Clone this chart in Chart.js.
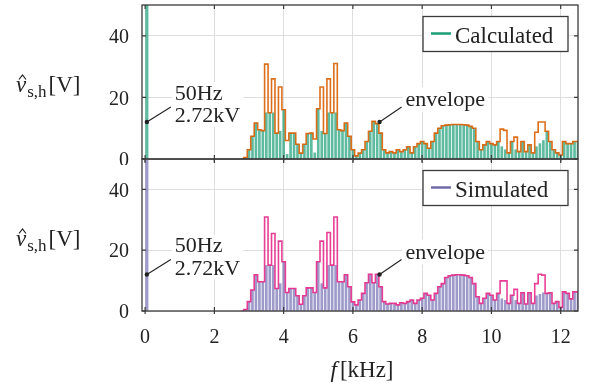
<!DOCTYPE html>
<html>
<head>
<meta charset="utf-8">
<script src="https://cdn.jsdelivr.net/npm/chart.js@4.4.0/dist/chart.umd.min.js"></script>
<style>
  body { margin: 0; background: #fff; }
  #wrap { position: relative; width: 590px; height: 387px; }
  #calc { position: absolute; left: 0; top: 0; }
  #sim { position: absolute; left: 0; top: 150px; }
</style>
</head>
<body>
<div id="wrap">
  <canvas id="calc" width="590" height="165"></canvas>
  <canvas id="sim" width="590" height="237"></canvas>
</div>
<script>
// harmonic frequencies in kHz
var freqs = [2.8, 2.9, 3.0, 3.1, 3.2, 3.3, 3.4, 3.5, 3.6, 3.7, 3.8, 3.9,
  4.0, 4.1, 4.2, 4.3, 4.4, 4.5, 4.6, 4.7, 4.8, 4.9,
  5.0, 5.1, 5.2, 5.3, 5.4, 5.5, 5.6, 5.7, 5.8, 5.9,
  6.0, 6.1, 6.2, 6.3, 6.4, 6.5, 6.6, 6.7, 6.8, 6.9,
  7.0, 7.1, 7.2, 7.3, 7.4, 7.5, 7.6, 7.7, 7.8, 7.9,
  8.0, 8.1, 8.2, 8.3, 8.4, 8.5, 8.6, 8.7, 8.8, 8.9,
  9.0, 9.1, 9.2, 9.3, 9.4, 9.5, 9.6, 9.7, 9.8, 9.9,
  10.0, 10.1, 10.2, 10.3, 10.4, 10.5, 10.6, 10.7, 10.8, 10.9,
  11.0, 11.1, 11.2, 11.3, 11.4, 11.5, 11.6, 11.7, 11.8, 11.9,
  12.0, 12.1, 12.2, 12.3, 12.4, 12.5];

var calcEnvelope = [0, 0.5, 3, 7.4, 11.7, 9.5, 9.2, 30.8, 15, 26, 8.4, 23.4,
  16, 6, 8.4, 8.4, 4.8, 1.9, 4.8, 8.3, 8.4, 6.5,
  16.3, 23.4, 8.3, 26, 15, 31, 9.5, 9.2, 11.7, 7.4,
  3, 1, 1.9, 3, 5.7, 9, 12.2, 11.5, 8.4, 3,
  2, 2.4, 2, 3, 2.4, 3, 4, 2, 4, 5,
  5.7, 5, 3.5, 5.7, 8.4, 10, 10.8, 11, 11.1, 11.2,
  11.2, 11.2, 11.1, 11, 10.6, 10, 5.7, 3, 4.6, 5.7,
  5, 4.6, 5.7, 9.7, 9.3, 2, 5.7, 7.1, 2.4, 5.7,
  2.4, 4.6, 2, 8.7, 12, 12, 9, 5.7, 3, 2,
  1.3, 5.7, 5, 5, 5.7, 5.7];

var calcBars = [0, 0.5, 3, 7.4, 11.7, 9.5, 9.2, 15, 15, 15, 8.4, 9,
  16, 1.5, 8.4, 8.4, 4.8, 1.9, 4.8, 8.3, 8.4, 2,
  16.3, 9, 8.3, 15, 15, 15, 9.5, 9.2, 11.7, 7.4,
  3, 1, 1.9, 3, 5.7, 9, 12.2, 11.5, 8.4, 3,
  2, 2.4, 2, 3, 2.4, 3, 4, 2, 4, 5,
  5.7, 5, 3.5, 5.7, 8.4, 10, 10.8, 11, 11.1, 11.2,
  11.2, 11.2, 11.1, 11, 10.6, 10, 5.7, 3, 4.6, 5.7,
  5, 4.6, 5.7, 4, 3, 2, 5.7, 3, 2.4, 5.7,
  2.4, 4.6, 2, 4, 5, 6, 9, 5.7, 3, 2,
  1.3, 5.7, 5, 5, 5.7, 5.7];

var simEnvelope = [0, 0.5, 3.1, 6.9, 11.9, 9.6, 9.6, 30.9, 15.1, 25.5, 7.4, 23,
  16.2, 6.1, 7.4, 7.4, 5, 2.2, 5, 7.6, 7.6, 6.1,
  16.2, 23, 7.6, 25.8, 15.1, 30.9, 9.6, 9.6, 11.9, 8,
  3, 2, 3.6, 5.8, 9.3, 12.1, 9.3, 12.1, 8, 3.1,
  2.3, 2.5, 2.5, 2, 2.7, 2.5, 3.1, 3.6, 2.5, 3.6,
  4.2, 5.8, 5.2, 3.6, 5.8, 8, 9, 11, 11.6, 11.8,
  11.9, 11.9, 11.8, 11.6, 11, 9, 4.7, 2.5, 4.2, 5.8,
  5.2, 3.6, 5.8, 9.9, 9.9, 2.5, 5.2, 7.1, 2.5, 6,
  2.3, 6, 2.5, 9, 12.1, 11.8, 5.8, 6, 2.5, 3.1,
  1.2, 6.3, 5.8, 4, 6.3, 6.3];

var simBars = [0, 0.5, 3.1, 6.9, 11.9, 9.6, 9.6, 15, 15.1, 15, 7.4, 9,
  16.2, 6.1, 7.4, 7.4, 5, 2.2, 5, 7.6, 7.6, 6.1,
  16.2, 9, 7.6, 15, 15.1, 15, 9.6, 9.6, 11.9, 8,
  3, 2, 3.6, 5.8, 9.3, 12.1, 9.3, 12.1, 8, 3.1,
  2.3, 2.5, 2.5, 2, 2.7, 2.5, 3.1, 3.6, 2.5, 3.6,
  4.2, 5.8, 5.2, 3.6, 5.8, 8, 9, 11, 11.6, 11.8,
  11.9, 11.9, 11.8, 11.6, 11, 9, 4.7, 2.5, 4.2, 5.8,
  5.2, 3.6, 5.8, 4, 3.5, 2.5, 5.2, 3.5, 2.5, 6,
  2.3, 6, 2.5, 5, 5.5, 6, 5.8, 6, 2.5, 3.1,
  1.2, 6.3, 5.8, 4, 6.3, 6.3];

// fundamental (50 Hz, 2.72 kV) - far off scale
var fundFreq = 0.05;
var fundCalc = 2720;
var fundSim = 2720;

var xTicks = [0, 2, 4, 6, 8, 10, 12];
var yTicks = [0, 20, 40];

var serif = '"Liberation Serif", "Times New Roman", serif';

function points(ys) {
  return freqs.map(function (f, i) { return { x: f, y: ys[i] }; });
}

function callout(ctx, px, py, lines, o) {
  ctx.font = '22px ' + serif;
  var tx = px + o.dx + 4;
  var w = 0;
  lines.forEach(function (t) { w = Math.max(w, ctx.measureText(t).width); });
  ctx.fillStyle = '#fff';
  ctx.fillRect(tx - 3, py + o.bgTop, w + 6, o.bgH);
  ctx.fillStyle = '#222';
  ctx.textAlign = 'left';
  ctx.textBaseline = 'alphabetic';
  lines.forEach(function (t, i) {
    ctx.fillText(t, tx, py + o.base + i * 22.5);
  });
  ctx.strokeStyle = '#222';
  ctx.lineWidth = 1.1;
  ctx.beginPath();
  ctx.moveTo(px, py);
  ctx.lineTo(px + o.dx, py + o.dy);
  ctx.stroke();
  ctx.beginPath();
  ctx.arc(px, py, 2.2, 0, Math.PI * 2);
  ctx.fill();
}

var panelPlugin = {
  id: 'panel',
  afterDatasetsDraw: function (chart, args, o) {
    var ctx = chart.ctx, a = chart.chartArea;
    var xs = chart.scales.x, ys = chart.scales.y;
    ctx.save();

    // callouts
    callout(ctx, xs.getPixelForValue(fundFreq), ys.getPixelForValue(12),
      ['50Hz', '2.72kV'], { dx: 24, dy: -15, base: -22.5, bgTop: -40, bgH: 45 });
    callout(ctx, xs.getPixelForValue(6.77), ys.getPixelForValue(12),
      ['envelope'], { dx: 22, dy: -15, base: -16, bgTop: -35, bgH: 25 });

    // frame
    ctx.strokeStyle = '#3a3a3a';
    ctx.lineWidth = 1.3;
    ctx.strokeRect(a.left, a.top, a.right - a.left, a.bottom - a.top);

    // inward tick marks
    ctx.lineWidth = 1.2;
    ctx.beginPath();
    xTicks.forEach(function (v) {
      var px = xs.getPixelForValue(v);
      ctx.moveTo(px, a.top); ctx.lineTo(px, a.top + 4);
      ctx.moveTo(px, a.bottom - 4); ctx.lineTo(px, a.bottom + 3);
    });
    yTicks.forEach(function (v) {
      var py = ys.getPixelForValue(v);
      ctx.moveTo(a.left, py); ctx.lineTo(a.left + 4, py);
      ctx.moveTo(a.right, py); ctx.lineTo(a.right - 4, py);
    });
    ctx.stroke();

    // legend box
    var bw = 145, bh = 35;
    var bx = a.right - 10 - bw, by = a.top + 11.5;
    ctx.fillStyle = '#fff';
    ctx.fillRect(bx, by, bw, bh);
    ctx.strokeStyle = '#3a3a3a';
    ctx.lineWidth = 1.3;
    ctx.strokeRect(bx, by, bw, bh);
    ctx.strokeStyle = o.color;
    ctx.lineWidth = 2.5;
    ctx.beginPath();
    ctx.moveTo(bx + 8, by + 17);
    ctx.lineTo(bx + 28, by + 17);
    ctx.stroke();
    ctx.fillStyle = '#222';
    ctx.font = '23px ' + serif;
    ctx.textAlign = 'left';
    ctx.textBaseline = 'alphabetic';
    ctx.fillText(o.label, bx + 32, by + 26);

    // y title  v^_{s,h}[V]
    var tx = 16, ty = a.top + 87;
    ctx.font = 'italic 23px ' + serif;
    ctx.fillText('v', tx, ty);
    var w1 = ctx.measureText('v').width;
    ctx.strokeStyle = '#222';
    ctx.lineWidth = 1.2;
    ctx.beginPath();
    ctx.moveTo(tx + 3, ty - 12.5);
    ctx.lineTo(tx + 6.5, ty - 17);
    ctx.lineTo(tx + 10, ty - 12.5);
    ctx.stroke();
    ctx.font = '17px ' + serif;
    ctx.fillText('s,h', tx + w1 + 1, ty + 5);
    var w2 = ctx.measureText('s,h').width;
    ctx.font = '23px ' + serif;
    ctx.fillText('[V]', tx + w1 + w2 + 3, ty);

    // x title  f[kHz]
    if (o.xTitle) {
      ctx.font = 'italic 23px ' + serif;
      var wf = ctx.measureText('f').width + 3;
      ctx.font = '23px ' + serif;
      var wk = ctx.measureText('[kHz]').width;
      var sx = (a.left + a.right) / 2 - (wf + wk) / 2 + 2;
      var sy = a.bottom + 66;
      ctx.font = 'italic 23px ' + serif;
      ctx.fillText('f', sx, sy);
      ctx.font = '23px ' + serif;
      ctx.fillText('[kHz]', sx + wf, sy);
    }
    ctx.restore();
  }
};

function noPad(s) {
  s.paddingTop = 0;
  s.paddingBottom = 0;
  s.paddingLeft = 0;
  s.paddingRight = 0;
}

function makePanel(id, bars, envelope, fund, barColor, envColor, legendColor, label, showX, pad, xHeight) {
  return new Chart(document.getElementById(id).getContext('2d'), {
    type: 'bar',
    data: {
      datasets: [
        {
          type: 'line',
          data: points(envelope),
          borderColor: envColor,
          borderWidth: 1.6,
          pointRadius: 0,
          stepped: 'middle',
          fill: false
        },
        {
          data: points(bars),
          backgroundColor: barColor,
          barThickness: 2,
          grouped: false
        },
        {
          data: [{ x: fundFreq, y: fund }],
          backgroundColor: barColor,
          barThickness: 2.5,
          grouped: false
        }
      ]
    },
    options: {
      responsive: false,
      animation: false,
      events: [],
      layout: { padding: pad },
      plugins: {
        legend: { display: false },
        tooltip: { enabled: false },
        panel: { color: legendColor, label: label, xTitle: showX }
      },
      scales: {
        x: {
          type: 'linear',
          min: -0.09,
          max: 12.5,
          offset: false,
          afterBuildTicks: function (s) { s.ticks = xTicks.map(function (v) { return { value: v }; }); },
          afterFit: function (s) { s.height = xHeight; noPad(s); },
          grid: { color: '#dedede', lineWidth: 1, drawTicks: false, offset: false },
          border: { display: false },
          ticks: {
            display: showX,
            padding: 15,
            color: '#222',
            maxRotation: 0,
            font: { family: serif, size: 20 }
          }
        },
        y: {
          min: 0,
          max: 50,
          afterBuildTicks: function (s) { s.ticks = yTicks.map(function (v) { return { value: v }; }); },
          afterFit: function (s) { s.width = 142; noPad(s); },
          grid: { color: '#dedede', lineWidth: 1, drawTicks: false },
          border: { display: false },
          ticks: {
            padding: 13,
            labelOffset: 2,
            color: '#222',
            font: { family: serif, size: 20 }
          }
        }
      }
    },
    plugins: [panelPlugin]
  });
}

makePanel('calc', calcBars, calcEnvelope, fundCalc,
  'rgba(27, 158, 119, 0.7)', 'rgba(217, 95, 2, 0.9)', '#1b9e77', 'Calculated',
  false, { left: 0, right: 12, top: 5, bottom: 6 }, 0);

makePanel('sim', simBars, simEnvelope, fundSim,
  'rgba(117, 112, 179, 0.7)', 'rgba(231, 41, 138, 0.9)', '#6f6aaa', 'Simulated',
  true, { left: 0, right: 12, top: 9, bottom: 0 }, 76);
</script>
</body>
</html>
